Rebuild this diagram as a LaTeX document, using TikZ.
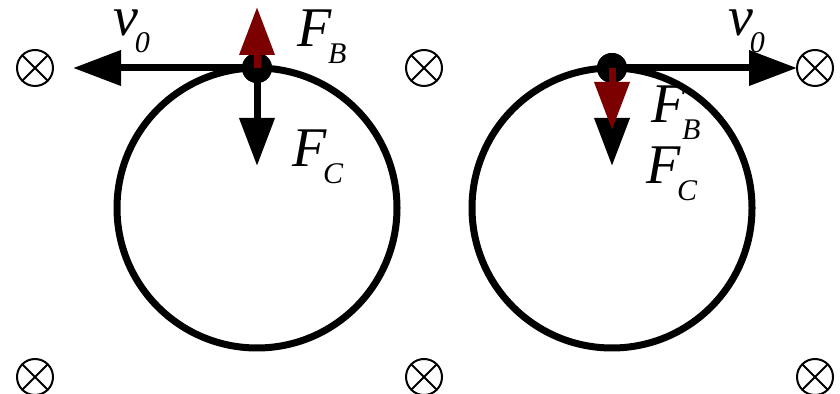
\documentclass[tikz,border=0pt]{standalone}
\usepackage{fontspec}
\setmainfont{Liberation Serif}
\usetikzlibrary{arrows.meta}
\definecolor{orbitRed}{HTML}{7D0000}
\definecolor{orbitInk}{HTML}{000000}
\tikzset{
  orbit diagram/.style={
    x=0.5pt, y=-0.5pt, line width=3.5pt,
    >={Triangle[length=24pt,width=17pt]},
    every node/.style={inner sep=0pt, outer sep=0pt, text=orbitInk}
  },
  orbit path/.style={draw=orbitInk},
  orbit force/.style={->, draw=orbitInk, fill=orbitInk},
  orbit lorentz/.style={->, draw=orbitRed, fill=orbitRed},
  orbit charge/.style={circle, fill=orbitInk, minimum size=15pt},
  orbit field/.style={circle, draw=orbitInk, line width=1pt, minimum size=18pt,
    path picture={
      \draw[line width=1pt]
        (path picture bounding box.north west) -- (path picture bounding box.south east)
        (path picture bounding box.south west) -- (path picture bounding box.north east);
    }},
  orbit label/.style={anchor=base west, font=\fontsize{28}{30}\selectfont\itshape}
}
\newcommand{\OrbitSub}[2]{#1\kern-1.5pt\raisebox{-8.5pt}{\fontsize{15}{16}\selectfont #2}}
% #1 shift, #2 v0 tip, #3 F_B tip, #4-#6 label spots
\newcommand{\OrbitPanel}[7]{%
  \begin{scope}[shift={(#2,0)}, name prefix=#1-]
    \draw[orbit path] (0,208) circle[radius=140];
    \coordinate (vTip) at (#3,68);
    \coordinate (cTip) at (0,166);
    \coordinate (bTip) at (0,#4);
    \node[orbit charge] (q) at (0,68) {};
    \draw[orbit force] (q.center) -- (vTip);
    \draw[orbit force] (q.center) -- (cTip);
    \node[orbit charge] at (q) {};
    \draw[orbit lorentz] (q.center) -- (bTip);
    \node[orbit label] (vName) at #5 {\OrbitSub{v}{0}};
    \node[orbit label] (bName) at #6 {\OrbitSub{F}{B}};
    \node[orbit label] (cName) at #7 {\OrbitSub{F}{C}};
  \end{scope}
}

\begin{document}
\begin{tikzpicture}[orbit diagram]
  \useasboundingbox (0,0) rectangle (840,394);
  % field into the page
  \foreach \fx/\fy [count=\k] in {35/68,424/68,815/68,35/377,424/377,815/377} {
    \node[orbit field] (field\k) at (\fx,\fy) {};
  }
  \OrbitPanel{L}{257}{-184}{7}{(-144,36)}{(40,47)}{(35,167)}
  \OrbitPanel{R}{612}{185}{130}{(116,36)}{(39,123)}{(34,184)}
\end{tikzpicture}
\end{document}
